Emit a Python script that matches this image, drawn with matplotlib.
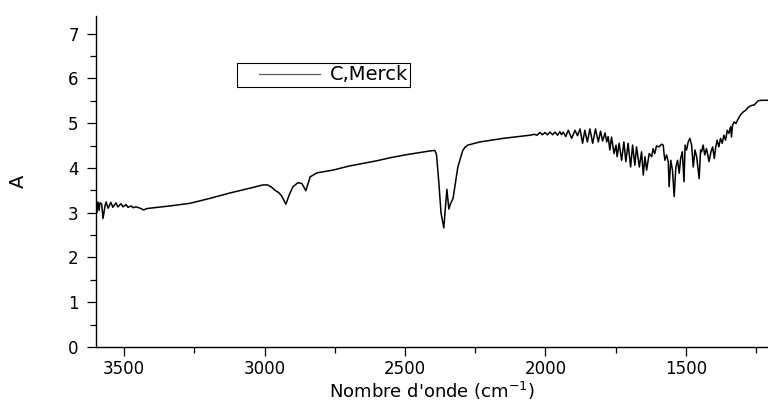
import matplotlib
matplotlib.use("Agg")
import matplotlib.pyplot as plt
from matplotlib.ticker import MultipleLocator
from matplotlib.lines import Line2D
from matplotlib.legend_handler import HandlerLine2D

# IR spectrum, absorbance vs wavenumber (cm-1)
wavenumber = [
    3600, 3597, 3593, 3589, 3586, 3580, 3575, 3568, 3564, 3557, 3547, 3540,
    3529, 3522, 3511, 3504, 3493, 3486, 3475, 3468, 3458, 3443, 3430, 3420,
    3408, 3337, 3265, 3194, 3123, 3050, 3006, 2990, 2975, 2963, 2950, 2940,
    2924, 2912, 2899, 2881, 2867, 2853, 2845, 2838, 2813, 2757, 2700, 2650,
    2600, 2550, 2500, 2450, 2410, 2394, 2388, 2380, 2372, 2362, 2351, 2344,
    2338, 2329, 2312, 2295, 2287, 2276, 2233, 2150, 2066, 2055, 2040, 2030,
    2020, 2011, 2002, 1993, 1984, 1975, 1966, 1957, 1949, 1943, 1937, 1928,
    1919, 1907, 1895, 1886, 1877, 1868, 1860, 1851, 1842, 1832, 1822, 1812,
    1804, 1797, 1788, 1782, 1777, 1771, 1765, 1756, 1749, 1745, 1738, 1729,
    1721, 1714, 1706, 1697, 1690, 1682, 1676, 1666, 1658, 1652, 1646, 1640,
    1631, 1622, 1617, 1611, 1605, 1595, 1587, 1581, 1578, 1575, 1569, 1563,
    1560, 1554, 1548, 1542, 1536, 1530, 1524, 1519, 1513, 1507, 1503, 1498,
    1492, 1486, 1480, 1474, 1468, 1462, 1453, 1448, 1444, 1439, 1433, 1427,
    1421, 1418, 1411, 1405, 1399, 1394, 1389, 1383, 1377, 1371, 1365, 1359,
    1353, 1347, 1341, 1338, 1334, 1328, 1322, 1316, 1310, 1304, 1296, 1287,
    1279, 1272, 1264, 1258, 1252, 1243, 1231, 1219, 1208,
]
absorbance = [
    3.18, 3.00, 3.24, 3.05, 3.22, 3.20, 2.87, 3.15, 3.24, 3.10, 3.23, 3.12,
    3.22, 3.13, 3.20, 3.13, 3.18, 3.12, 3.15, 3.11, 3.13, 3.10, 3.06, 3.09,
    3.10, 3.15, 3.21, 3.32, 3.44, 3.55, 3.62, 3.62, 3.57, 3.50, 3.45, 3.38,
    3.19, 3.40, 3.58, 3.67, 3.65, 3.49, 3.65, 3.80, 3.89, 3.95, 4.04, 4.10,
    4.16, 4.23, 4.29, 4.34, 4.38, 4.39, 4.30, 3.70, 3.00, 2.66, 3.52, 3.08,
    3.20, 3.32, 4.02, 4.38, 4.46, 4.51, 4.58, 4.66, 4.72, 4.73, 4.75, 4.73,
    4.79, 4.74, 4.79, 4.74, 4.80, 4.74, 4.80, 4.73, 4.81, 4.74, 4.80, 4.70,
    4.84, 4.66, 4.84, 4.72, 4.87, 4.55, 4.84, 4.58, 4.87, 4.55, 4.87, 4.58,
    4.82, 4.60, 4.78, 4.58, 4.70, 4.40, 4.69, 4.32, 4.51, 4.25, 4.55, 4.17,
    4.58, 4.14, 4.55, 4.02, 4.51, 4.06, 4.47, 4.02, 4.36, 3.84, 4.25, 3.95,
    4.32, 4.25, 4.43, 4.32, 4.49, 4.47, 4.53, 4.51, 4.32, 4.17, 4.29, 4.14,
    3.58, 4.17, 3.95, 3.36, 4.02, 4.17, 3.88, 4.21, 4.36, 3.69, 4.51, 4.40,
    4.58, 4.66, 4.51, 4.02, 4.40, 4.25, 3.76, 4.40, 4.36, 4.51, 4.29, 4.43,
    4.25, 4.14, 4.36, 4.47, 4.21, 4.47, 4.62, 4.47, 4.66, 4.55, 4.73, 4.62,
    4.84, 4.77, 4.92, 4.69, 4.96, 5.03, 4.99, 5.07, 5.14, 5.20, 5.25, 5.29,
    5.35, 5.38, 5.40, 5.40, 5.44, 5.50, 5.51, 5.51, 5.51,
]

plt.rcParams['font.family'] = ['DejaVu Sans']

fig = plt.figure(figsize=(7.68, 4.03), dpi=100)
ax = fig.add_axes([0.125, 0.139, 0.875, 0.821])

ax.plot(wavenumber, absorbance, color='black', lw=1.1)

ax.set_xlim(3600, 1208)
ax.set_ylim(0, 7.39)
ax.xaxis.set_major_locator(MultipleLocator(500))
ax.xaxis.set_minor_locator(MultipleLocator(250))
ax.yaxis.set_major_locator(MultipleLocator(1))
ax.yaxis.set_minor_locator(MultipleLocator(0.5))

for side in ['top', 'right']:
    ax.spines[side].set_visible(False)
for side in ['left', 'bottom']:
    ax.spines[side].set_linewidth(1.0)

ax.tick_params(which='major', direction='out', length=6.5, width=0.9,
               labelsize=12, pad=3)
ax.tick_params(axis='y', which='major', pad=6)
ax.tick_params(which='minor', direction='out', length=4, width=0.9)

ax.set_xlabel("Nombre d'onde (cm$^{-1}$)", fontsize=13, labelpad=1)
ax.set_ylabel("A", fontsize=14, labelpad=29)

handle = Line2D([], [], color='0.35', lw=0.9)
leg = ax.legend([handle], ['C,Merck'], loc='upper left',
                bbox_to_anchor=(0.21, 0.858), borderaxespad=0,
                fontsize=14, fancybox=False, framealpha=1, edgecolor='black',
                borderpad=0.12, handlelength=4.15, handletextpad=0.5,
                handler_map={Line2D: HandlerLine2D(xpad=1.0)})
leg.get_frame().set_linewidth(0.8)

fig.savefig('out.png', dpi=100)
